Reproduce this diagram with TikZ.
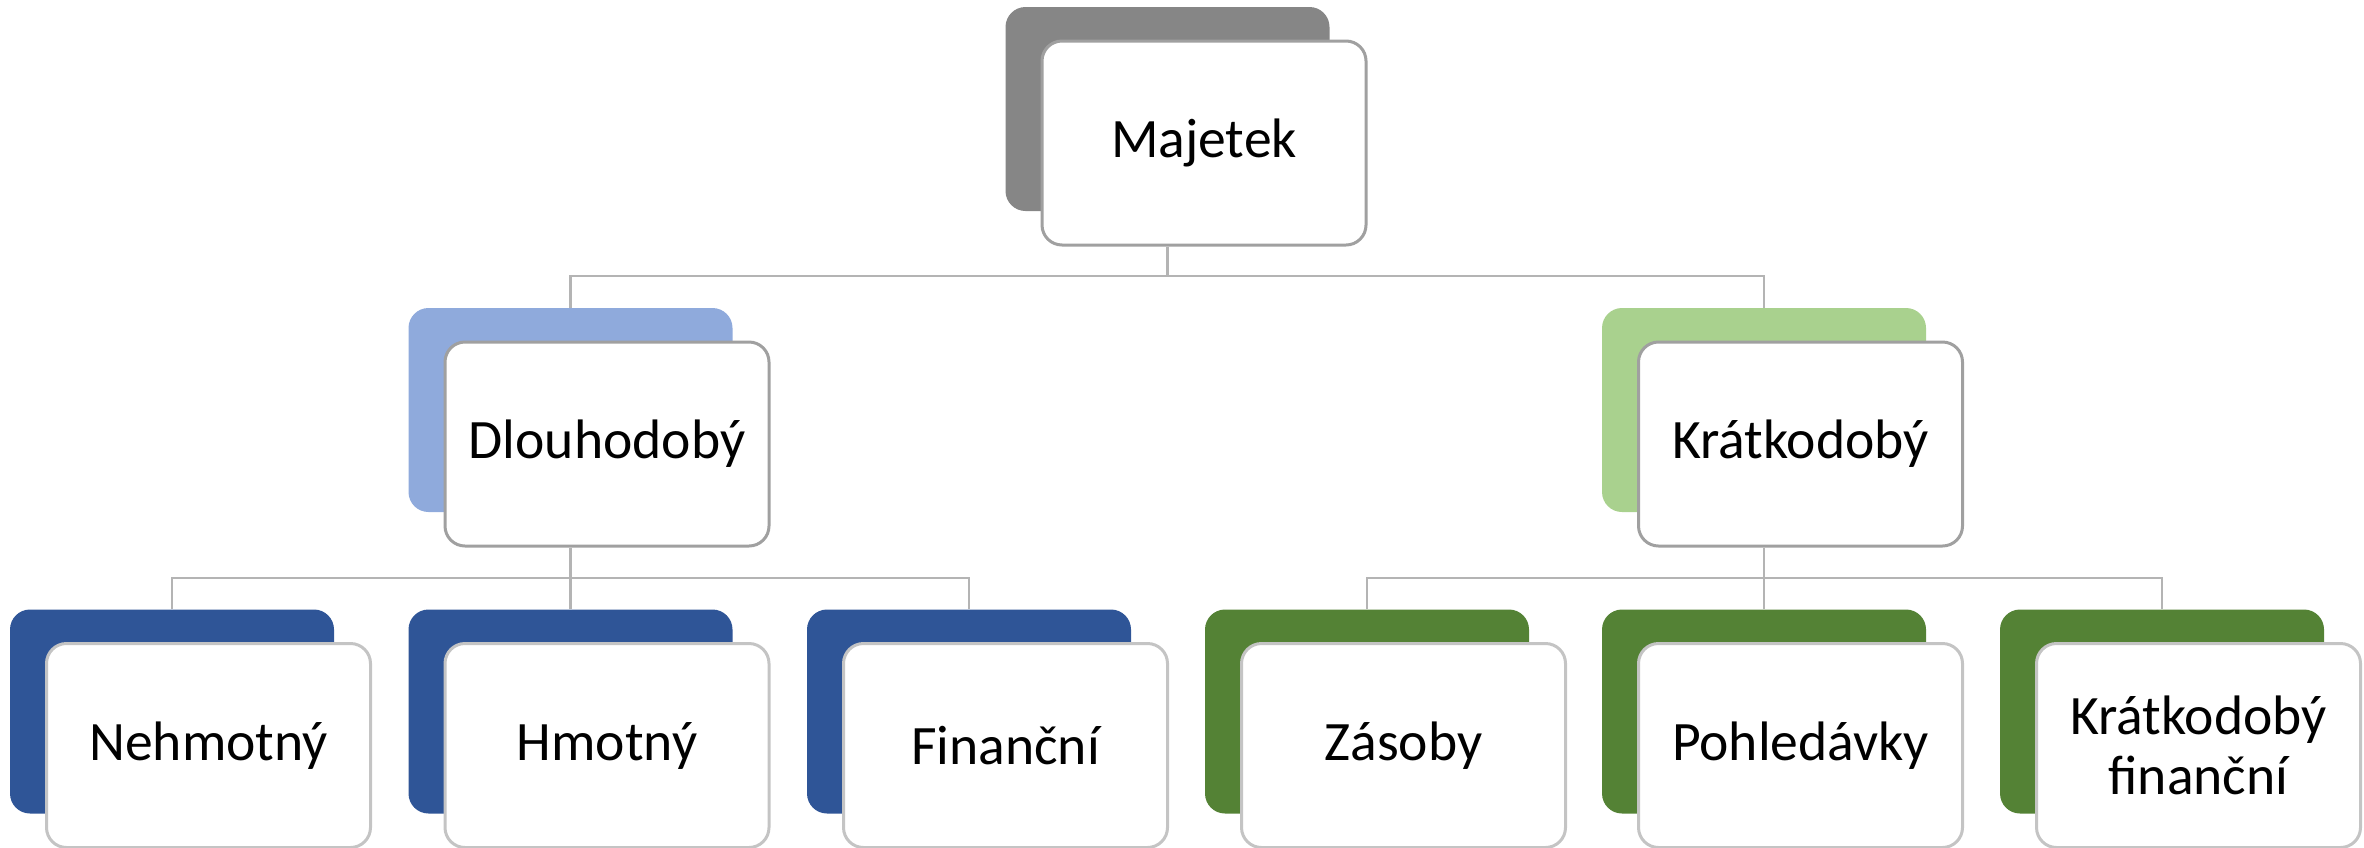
\documentclass[tikz,border=0pt]{standalone}
\usepackage{fontspec}
\setmainfont{Carlito}
\usepackage{tikz}

\definecolor{majback}{HTML}{868686}
\definecolor{dlback}{HTML}{8FAADC}
\definecolor{krback}{HTML}{A9D18E}
\definecolor{dldark}{HTML}{2F5597}
\definecolor{krdark}{HTML}{548235}
\definecolor{edgetop}{HTML}{A0A0A0}
\definecolor{edgelow}{HTML}{C4C4C4}
\definecolor{linegrey}{HTML}{B4B4B4}

\begin{document}
\begin{tikzpicture}[x=0.5pt,y=-0.5pt,
    back/.style={rectangle, rounded corners=10pt, minimum width=162pt,
                 minimum height=102pt, inner sep=0pt},
    front/.style={rectangle, rounded corners=10pt, fill=white, line width=1.5pt,
                  minimum width=162pt, minimum height=102pt, inner sep=0pt,
                  align=center, font=\fontsize{27.8}{30}\selectfont},
    link/.style={draw=linegrey, line width=1.4pt}]
                \useasboundingbox (0,0) rectangle (2364,847);

                % Top level
                \node[back, fill=majback] (majb) at (1167.5,109) {};
                \node[front, draw=edgetop] (maj) at (1167.5+36.5,109+34) {Majetek};

                % Second level
                \node[back, fill=dlback] (dlb) at (570.5,410) {};
                \node[front, draw=edgetop] (dl) at (570.5+36.5,410+34) {Dlouhodobý};
                \node[back, fill=krback] (krb) at (1764,410) {};
                \node[front, draw=edgetop] (kr) at (1764+36.5,410+34) {Krátkodobý};

                % Third level
                \node[back, fill=dldark] (nehb) at (172,711.5) {};
                \node[front, draw=edgelow] (neh) at (172+36.5,711.5+34) {Nehmotný};
                \node[back, fill=dldark] (hmb) at (570.5,711.5) {};
                \node[front, draw=edgelow] (hm) at (570.5+36.5,711.5+34) {Hmotný};
                \node[back, fill=dldark] (finb) at (969,711.5) {};
                \node[front, draw=edgelow] (fin) at (969+36.5,711.5+34) {Finanční};
                \node[back, fill=krdark] (zasb) at (1367,711.5) {};
                \node[front, draw=edgelow] (zas) at (1367+36.5,711.5+34) {Zásoby};
                \node[back, fill=krdark] (pohb) at (1764,711.5) {};
                \node[front, draw=edgelow] (poh) at (1764+36.5,711.5+34) {Pohledávky};
                \node[back, fill=krdark] (kfb) at (2162,711.5) {};
                \node[front, draw=edgelow] (kf) at (2162+36.5,711.5+34) {Krátkodobý\\finanční};

                % Connectors
                \coordinate (bar1) at (1167.5,276);
                \draw[link] (majb |- maj.south) -- (bar1);
                \draw[link] (dlb.north) |- (bar1);
                \draw[link] (krb.north) |- (bar1);

                \coordinate (bar2) at (570.5,578);
                \draw[link] (dlb |- dl.south) -- (bar2);
                \draw[link] (nehb.north) |- (bar2);
                \draw[link] (hmb.north) |- (bar2);
                \draw[link] (finb.north) |- (bar2);

                \coordinate (bar3) at (1764,578);
                \draw[link] (krb |- kr.south) -- (bar3);
                \draw[link] (zasb.north) |- (bar3);
                \draw[link] (pohb.north) |- (bar3);
                \draw[link] (kfb.north) |- (bar3);
            \end{tikzpicture}
\end{document}
